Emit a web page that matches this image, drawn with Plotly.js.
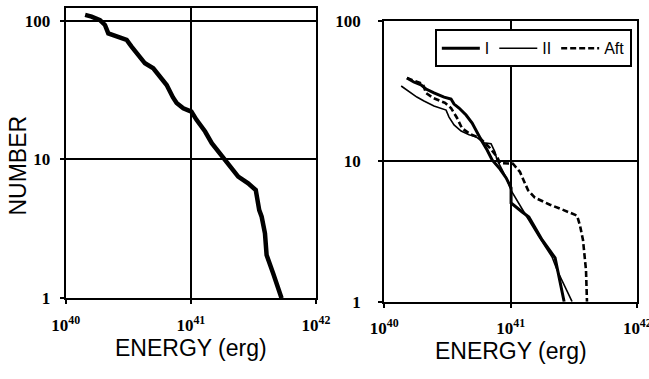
<!DOCTYPE html>
<html>
<head>
<meta charset="utf-8">
<script src="https://cdn.plot.ly/plotly-3.0.1.min.js"></script>
<style>html,body{margin:0;padding:0;background:#fff;}#chart{width:649px;height:379px;}</style>
</head>
<body>
<div id="chart"></div>
<script>
// Left panel: all events
var allEnergy = [1.43e40,1.61e40,1.88e40,2.06e40,2.19e40,2.63e40,3.07e40,3.36e40,3.80e40,4.30e40,5.01e40,5.66e40,6.41e40,7.2e40,7.7e40,8.7e40,1.01e41,1.11e41,1.30e41,1.47e41,1.66e41,1.87e41,2.12e41,2.39e41,2.87e41,3.30e41,3.52e41,3.68e41,3.91e41,4.03e41,4.55e41,5.31e41];
var allNumber = [110,107,101,93,81,76.7,72.6,65,56.6,49.3,45.4,39.5,34.4,28,25.5,23.4,22.1,19.3,15.9,13.1,11.4,9.93,8.41,7.52,6.74,6.03,4.32,3.87,2.94,2.05,1.51,1.0];

// Right panel: series I, II, Aft
var iEnergy = [1.51e40,1.71e40,1.95e40,2.14e40,2.47e40,2.97e40,3.37e40,3.56e40,3.90e40,4.43e40,4.95e40,5.32e40,5.82e40,6.50e40,7.12e40,8.09e40,9.19e40,1.005e41,1.005e41,1.23e41,1.39e41,1.77e41,2.24e41,2.64e41];
var iNumber = [39.1,36.6,34.9,32.6,30.6,28.6,27.7,25.5,23.9,21.3,18.7,16.4,14.2,12.0,10.2,8.95,7.6,6.45,5.04,4.35,4.01,2.75,2.05,1.0];

var iiEnergy = [1.36e40,1.57e40,1.81e40,2.06e40,2.47e40,3.08e40,3.25e40,3.56e40,4.05e40,4.68e40,5.32e40,6.15e40,6.98e40,7.5e40,7.78e40,8.53e40,9.33e40,1.005e41,1.12e41,1.27e41,1.67e41,2.12e41,2.32e41,3.05e41];
var iiNumber = [34.3,31.1,28.6,26.8,24.7,23.1,20.6,18.1,16.4,15.4,14.9,13.5,13.3,11.6,10.2,8.7,7.4,6.2,5.3,4.35,2.89,2.08,1.68,1.0];

var aftEnergy = [1.51e40,2.02e40,2.14e40,2.43e40,3.02e40,3.37e40,3.76e40,4.11e40,4.76e40,5.71e40,6.85e40,7.79e40,8.22e40,1.04e41,1.18e41,1.37e41,1.55e41,2.04e41,2.59e41,3.34e41,3.52e41,3.72e41,3.93e41,4.0e41];
var aftNumber = [39.1,35.4,30.5,28.2,26.0,23.9,20.3,17.2,15.6,14.6,12.4,10.7,9.7,9.6,8.4,6.2,5.5,4.9,4.5,4.1,3.5,2.75,1.68,1.0];

var seriesNames = ['I', 'II', 'Aft'];
var xTickVals = [1e40, 1e41, 1e42];
var xTickText = ['10<sup>40</sup>', '10<sup>41</sup>', '10<sup>42</sup>'];
var yTickVals = [1, 10, 100];
var yTickText = ['1', '10', '100'];

var SERIF = '"Liberation Serif", "Times New Roman", Times, serif';
var SANS = '"Liberation Sans", Arial, sans-serif';

var traces = [
  {x: allEnergy, y: allNumber, xaxis: 'x', yaxis: 'y', mode: 'lines', showlegend: false,
   line: {color: '#000', width: 4.5}},
  {x: iEnergy, y: iNumber, xaxis: 'x2', yaxis: 'y2', mode: 'lines', name: seriesNames[0],
   line: {color: '#000', width: 3}},
  {x: iiEnergy, y: iiNumber, xaxis: 'x2', yaxis: 'y2', mode: 'lines', name: seriesNames[1],
   line: {color: '#000', width: 1.6}},
  {x: aftEnergy, y: aftNumber, xaxis: 'x2', yaxis: 'y2', mode: 'lines', name: seriesNames[2],
   line: {color: '#000', width: 2.6, dash: '6px,3px'}}
];

function xAx(domain, anchor) {
  return {type: 'log', domain: domain, range: [40, 42], anchor: anchor,
    showline: true, mirror: true, linecolor: '#000', linewidth: 2,
    showgrid: true, gridcolor: '#000', gridwidth: 2, zeroline: false,
    ticks: 'outside', ticklen: 4, tickwidth: 2, tickcolor: '#000',
    tickvals: xTickVals, ticktext: xTickText, ticklabelstandoff: 6,
    ticklabeloverflow: 'allow',
    tickfont: {family: SERIF, size: 17, color: '#000', weight: 'bold'},
    title: {text: 'ENERGY (erg)', standoff: 0,
      font: {family: SANS, size: 23, color: '#000'}}};
}
function yAx(domain, anchor, range, standoff) {
  return {type: 'log', domain: domain, range: range, anchor: anchor,
    showline: true, mirror: true, linecolor: '#000', linewidth: 2,
    showgrid: true, gridcolor: '#000', gridwidth: 2, zeroline: false,
    ticks: 'outside', ticklen: 4, tickwidth: 2, tickcolor: '#000',
    tickvals: yTickVals, ticktext: yTickText, ticklabelstandoff: standoff,
    ticklabeloverflow: 'allow',
    tickfont: {family: SERIF, size: 17, color: '#000', weight: 'bold'}};
}

var layout = {
  width: 649, height: 379,
  margin: {l: 0, r: 0, t: 0, b: 0},
  paper_bgcolor: '#fff', plot_bgcolor: '#fff',
  xaxis: xAx([0.1012, 0.4869], 'y'),
  yaxis: yAx([0.2129, 0.9781], 'x', [0, 2.089], 6),
  xaxis2: xAx([0.5921, 0.9820], 'y2'),
  yaxis2: yAx([0.2040, 0.9454], 'x2', [0, 2], 14),
  showlegend: true,
  legend: {orientation: 'h', x: 0.670, y: 0.9227, xanchor: 'left', yanchor: 'top',
    bgcolor: '#fff', bordercolor: '#000', borderwidth: 2, itemwidth: 38,
    font: {family: SANS, size: 16, color: '#000'}},
  annotations: [
    {text: 'NUMBER', xref: 'paper', yref: 'paper', x: 0.027, y: 0.562,
     xanchor: 'center', yanchor: 'middle',
     textangle: -90, showarrow: false,
     font: {family: SANS, size: 23, color: '#000'}}
  ]
};

Plotly.newPlot('chart', traces, layout, {staticPlot: true, displayModeBar: false});
</script>
</body>
</html>
